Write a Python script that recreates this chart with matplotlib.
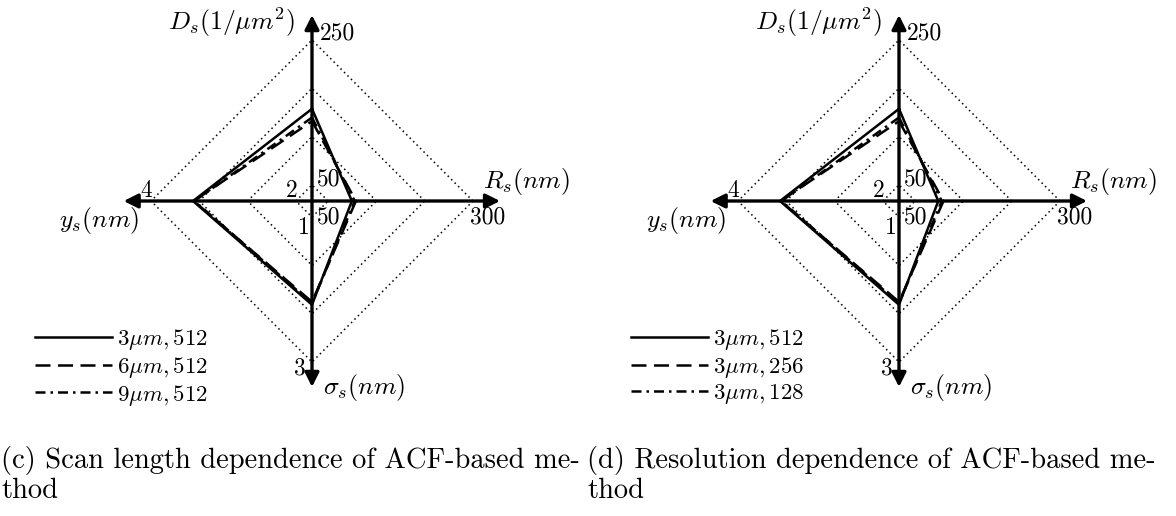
import matplotlib
matplotlib.use("Agg")
import matplotlib.pyplot as plt
from matplotlib.patches import FancyArrowPatch, ArrowStyle

plt.rcParams["mathtext.fontset"] = "cm"
plt.rcParams["font.family"] = ["cmr10", "DejaVu Serif"]
plt.rcParams["axes.formatter.use_mathtext"] = True

# Radar axes: name, value at inner ring, value at outer ring, direction
axis_labels = [r"$D_s(1/\mu m^2)$", r"$R_s(nm)$", r"$\sigma_s(nm)$", r"$y_s(nm)$"]
axis_lo = [50, 50, 1, 2]
axis_hi = [250, 300, 3, 4]
axis_dirs = [(0, 1), (1, 0), (0, -1), (-1, 0)]  # up, right, down, left

# Panel (c): scan length dependence (D_s, R_s, sigma_s, y_s)
scan_labels = [r"$3\mu m, 512$", r"$6\mu m, 512$", r"$9\mu m, 512$"]
scan_D = [155, 138, 143]
scan_R = [91, 98, 96]
scan_sigma = [2.21, 2.17, 2.19]
scan_y = [3.42, 3.41, 3.40]

# Panel (d): resolution dependence
res_labels = [r"$3\mu m, 512$", r"$3\mu m, 256$", r"$3\mu m, 128$"]
res_D = [155, 138, 143]
res_R = [90, 99, 96]
res_sigma = [2.21, 2.17, 2.19]
res_y = [3.42, 3.41, 3.40]

captions = ["(c) Scan length dependence of ACF-based me-\nthod",
            "(d) Resolution dependence of ACF-based me-\nthod"]

ring_levels = [0.1, 0.4, 0.7, 1.0]
styles = [dict(ls="-"), dict(ls=(0, (6, 3))), dict(ls=(0, (4, 2, 1, 2)))]

W, H = 1176, 516
RPX = 161.0       # outer ring radius in pixels
HALF = 285.0      # half-size of each panel's axes box in pixels
FS = 17           # ring value labels
AFS = 18.5        # axis titles
LFS = 16.5        # legend


def radial(v, lo, hi):
    return ring_levels[0] + (ring_levels[-1] - ring_levels[0]) * (v - lo) / (hi - lo)


def draw_panel(cx, cy, D, R, S, Y, labels, legend_xy, caption, cap_x):
    ax = fig.add_axes([(cx - HALF) / W, (H - cy - HALF) / H, 2 * HALF / W, 2 * HALF / H])
    lim = HALF / RPX
    ax.set_xlim(-lim, lim)
    ax.set_ylim(-lim, lim)
    ax.set_axis_off()

    # dotted diamonds
    for f in ring_levels:
        ax.plot([f, 0, -f, 0, f], [0, f, 0, -f, 0], color="black", ls=(0, (1, 2.2)),
                lw=1.1, zorder=1)

    # axis arrows
    style = ArrowStyle("<|-|>", head_length=1.0, head_width=0.5)
    for (x0, y0, x1, y1) in [(-1.17, 0, 1.168, 0), (0, -1.155, 0, 1.155)]:
        ax.add_patch(FancyArrowPatch((x0, y0), (x1, y1), arrowstyle=style,
                                     mutation_scale=8.5, lw=2.4, color="black",
                                     shrinkA=0, shrinkB=0, zorder=3))

    # series polygons
    for i in range(len(labels)):
        vals = [D[i], R[i], S[i], Y[i]]
        xs, ys = [], []
        for v, lo, hi, (dx, dy) in zip(vals, axis_lo, axis_hi, axis_dirs):
            r = radial(v, lo, hi)
            xs.append(dx * r)
            ys.append(dy * r)
        xs.append(xs[0])
        ys.append(ys[0])
        ax.plot(xs, ys, color="black", lw=1.8, label=labels[i], zorder=4, **styles[i])

    # ring value labels
    ax.text(0.05, 1.04, "250", fontsize=FS, ha="left", va="center")
    ax.text(0.03, 0.135, "50", fontsize=FS, ha="left", va="center")
    ax.text(1.09, -0.105, "300", fontsize=FS, ha="center", va="center")
    ax.text(0.03, -0.10, "50", fontsize=FS, ha="left", va="center")
    ax.text(-1.03, 0.065, "4", fontsize=FS, ha="center", va="center")
    ax.text(-0.125, 0.065, "2", fontsize=FS, ha="center", va="center")
    ax.text(-0.075, -1.04, "3", fontsize=FS, ha="center", va="center")
    ax.text(-0.05, -0.17, "1", fontsize=FS, ha="center", va="center")

    # axis titles
    ax.text(-0.105, 1.11, axis_labels[0], fontsize=AFS, ha="right", va="center")
    ax.text(1.06, 0.12, axis_labels[1], fontsize=AFS, ha="left", va="center")
    ax.text(0.07, -1.16, axis_labels[2], fontsize=AFS, ha="left", va="center")
    ax.text(-1.32, -0.12, axis_labels[3], fontsize=AFS, ha="center", va="center")

    fig.legend(handles=ax.get_lines()[len(ring_levels):], loc="upper left",
               bbox_to_anchor=(legend_xy[0] / W, 1 - legend_xy[1] / H),
               frameon=False, fontsize=LFS, handlelength=3.36, handletextpad=0.22,
               labelspacing=0.12, borderpad=0, borderaxespad=0)

    fig.text(cap_x / W, 1 - 446 / H, caption, fontsize=20.5, ha="left", va="top",
             linespacing=1.15)


fig = plt.figure(figsize=(W / 100, H / 100), dpi=100)
draw_panel(312, 201, scan_D, scan_R, scan_sigma, scan_y, scan_labels, (35, 327),
           captions[0], 1)
draw_panel(899, 201, res_D, res_R, res_sigma, res_y, res_labels, (631, 327),
           captions[1], 587)
fig.savefig("out.png", dpi=100)
